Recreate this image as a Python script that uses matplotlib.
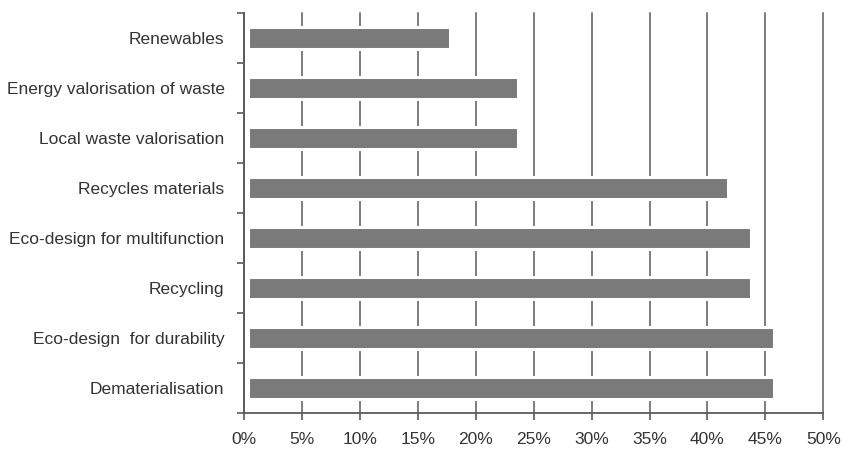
import matplotlib.pyplot as plt
import numpy as np
from matplotlib.ticker import FuncFormatter, MultipleLocator

plt.rcParams["font.family"] = ["Liberation Sans", "DejaVu Sans"]

categories = [
    "Renewables",
    "Energy valorisation of waste",
    "Local waste valorisation",
    "Recycles materials",
    "Eco-design for multifunction",
    "Recycling",
    "Eco-design  for durability",
    "Dematerialisation",
]
shares = [17.4, 23.3, 23.3, 41.4, 43.4, 43.4, 45.4, 45.4]

INK = "#333333"
BAR = "#7a7a7a"
LINE = "#5a5a5a"

fig = plt.figure(figsize=(8.42, 4.54), dpi=100, facecolor="white")
ax = fig.add_axes([0.2898, 0.0903, 0.6880, 0.8811])

n = len(categories)
ypos = np.arange(n)[::-1]
ax.barh(ypos, shares, height=0.45, left=0.35, color=BAR,
        edgecolor="white", linewidth=2.2, zorder=3)

ax.set_xlim(0, 50)
ax.set_ylim(-0.5, n - 0.5)
ax.xaxis.set_major_locator(MultipleLocator(5))
ax.xaxis.set_major_formatter(FuncFormatter(lambda v, _: f"{v:.0f}%"))
ax.grid(axis="x", color=LINE, linewidth=1.1, zorder=1)
for gl in ax.get_xgridlines():
    gl.set_clip_on(False)

ax.set_yticks(ypos)
ax.set_yticklabels(categories)
# tick marks sit between the category bands
ax.set_yticks(np.arange(n + 1) - 0.5, minor=True)
ax.tick_params(axis="y", which="major", length=0, pad=14, labelsize=12.5, labelcolor=INK)
ax.tick_params(axis="y", which="minor", length=5, width=1.2, color=LINE)
ax.tick_params(axis="x", length=5, width=1.2, color=LINE, pad=9,
               labelsize=12.5, labelcolor=INK)

for side in ("top", "right"):
    ax.spines[side].set_visible(False)
for side in ("left", "bottom"):
    ax.spines[side].set_color(LINE)
    ax.spines[side].set_linewidth(1.3)
    ax.spines[side].set_zorder(4)

fig.savefig("out.png", dpi=100, facecolor="white")
